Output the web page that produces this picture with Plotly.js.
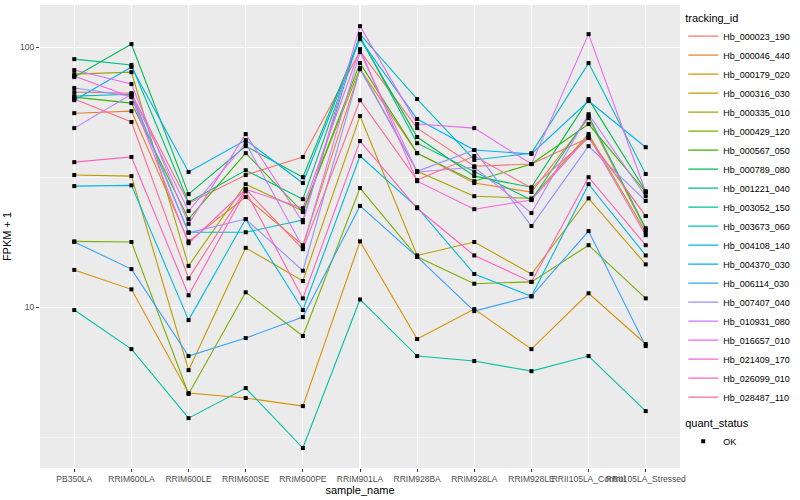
<!DOCTYPE html>
<html>
<head>
<meta charset="utf-8">
<script src="https://cdn.plot.ly/plotly-3.0.1.min.js"></script>
<style>html,body{margin:0;padding:0;background:#fff;}#chart{width:800px;height:500px;}</style>
</head>
<body>
<div id="chart"></div>
<script>
const samples = ["PB350LA","RRIM600LA","RRIM600LE","RRIM600SE","RRIM600PE","RRIM901LA","RRIM928BA","RRIM928LA","RRIM928LE","RRII105LA_Control","RRII105LA_Stressed"];

const trackingIds = ["Hb_000023_190","Hb_000046_440","Hb_000179_020","Hb_000316_030","Hb_000335_010","Hb_000429_120","Hb_000567_050","Hb_000789_080","Hb_001221_040","Hb_003052_150","Hb_003673_060","Hb_004108_140","Hb_004370_030","Hb_006114_030","Hb_007407_040","Hb_010931_080","Hb_016657_010","Hb_021409_170","Hb_026099_010","Hb_028487_110"];

const seriesColors = ["#F8766D","#EA8331","#D89000","#C09B00","#A3A500","#7CAE00","#39B600","#00BB4E","#00BF7D","#00C1A3","#00BFC4","#00BAE0","#00B0F6","#35A2FF","#9590FF","#C77CFF","#E76BF3","#FA62DB","#FF62BC","#FF6C91"];

// FPKM + 1 per tracking id, in the order of samples
const hb_000023_190 = [67.1, 66.5, 25.1, 32.2, 37.8, 96.5, 48.8, 34.8, 35.5, 44.7, 22.4];
const hb_000046_440 = [55.7, 56.7, 17.9, 26.5, 17.3, 82.3, 39.1, 30.0, 27.7, 53.3, 19.8];
const hb_000179_020 = [13.9, 11.7, 4.67, 4.47, 4.16, 17.9, 7.53, 9.82, 6.89, 11.3, 7.21];
const hb_000316_030 = [32.2, 31.9, 5.72, 16.9, 12.6, 54.3, 15.8, 17.8, 13.4, 26.2, 14.6];
const hb_000335_010 = [78.7, 80.1, 14.4, 29.7, 23.4, 83.0, 33.3, 26.7, 26.2, 46.3, 19.4];
const hb_000429_120 = [17.9, 17.8, 4.63, 11.4, 7.74, 28.7, 15.6, 12.3, 12.5, 17.3, 10.8];
const hb_000567_050 = [64.2, 60.9, 21.8, 39.1, 23.2, 86.8, 39.1, 30.5, 35.5, 50.6, 27.7];
const hb_000789_080 = [76.7, 102.7, 27.2, 41.6, 31.6, 108.3, 45.1, 31.9, 28.9, 63.1, 27.9];
const hb_001221_040 = [89.9, 85.3, 25.3, 33.6, 26.0, 110.2, 42.7, 33.1, 25.8, 54.3, 20.1];
const hb_003052_150 = [9.74, 6.89, 3.74, 4.88, 2.87, 10.7, 6.48, 6.20, 5.67, 6.48, 3.98];
const hb_003673_060 = [64.8, 65.9, 19.4, 19.4, 21.6, 112.2, 63.1, 36.8, 39.1, 86.8, 32.5];
const hb_004108_140 = [29.2, 29.4, 8.91, 21.8, 9.74, 38.1, 24.2, 13.4, 11.0, 29.7, 15.8];
const hb_004370_030 = [62.5, 83.8, 33.1, 43.9, 30.0, 107.3, 52.9, 40.2, 38.8, 62.0, 41.2];
const hb_006114_030 = [17.8, 14.0, 6.48, 7.60, 9.15, 24.5, 15.6, 9.65, 11.0, 19.6, 7.08];
const hb_007407_040 = [69.6, 64.8, 19.3, 21.8, 13.8, 82.3, 33.3, 40.2, 20.5, 41.6, 25.6];
const hb_010931_080 = [48.8, 65.9, 23.4, 42.7, 17.0, 95.7, 33.1, 34.5, 23.0, 55.2, 26.7];
const hb_016657_010 = [81.6, 72.1, 20.9, 46.3, 21.2, 120.4, 50.6, 48.8, 35.5, 112.2, 27.7];
const hb_021409_170 = [77.4, 64.2, 17.6, 28.4, 24.0, 98.2, 30.5, 23.8, 25.8, 45.5, 18.9];
const hb_026099_010 = [36.1, 37.8, 11.1, 27.9, 10.8, 43.5, 24.0, 15.8, 12.5, 31.6, 17.3];
const hb_028487_110 = [63.1, 51.5, 12.9, 28.4, 16.7, 62.5, 30.8, 38.1, 28.7, 44.7, 22.4];

const seriesValues = [hb_000023_190, hb_000046_440, hb_000179_020, hb_000316_030, hb_000335_010, hb_000429_120, hb_000567_050, hb_000789_080, hb_001221_040, hb_003052_150, hb_003673_060, hb_004108_140, hb_004370_030, hb_006114_030, hb_007407_040, hb_010931_080, hb_016657_010, hb_021409_170, hb_026099_010, hb_028487_110];

const yTickVals = [10, 100];
const yTickText = ["10", "100"];
const quantStatus = "OK";

const traces = trackingIds.map((id, i) => ({
  type: "scatter", mode: "lines", name: id,
  x: samples, y: seriesValues[i],
  line: {color: seriesColors[i], width: 1.1},
  legend: "legend", hoverinfo: "skip"
}));

const allX = [], allY = [];
seriesValues.forEach(v => v.forEach((val, j) => { allX.push(samples[j]); allY.push(val); }));
traces.push({
  type: "scatter", mode: "markers", name: quantStatus,
  x: allX, y: allY,
  marker: {color: "#000000", symbol: "square", size: 4},
  legend: "legend2", hoverinfo: "skip"
});

const font = "Liberation Sans, Arial, sans-serif";
const layout = {
  width: 800, height: 500,
  margin: {l: 40, r: 116, t: 5, b: 32},
  paper_bgcolor: "#FFFFFF", plot_bgcolor: "#EBEBEB",
  font: {family: font, color: "#000"},
  xaxis: {
    type: "category", range: [-0.6, 10.6],
    showgrid: true, gridcolor: "#FFFFFF", gridwidth: 1.1,
    zeroline: false, showline: false,
    ticks: "outside", ticklen: 3, tickcolor: "#333333", tickwidth: 1,
    tickangle: 0, tickfont: {size: 8.5, color: "#4D4D4D", family: font},
    title: {text: "sample_name", font: {size: 11, color: "#000"}, standoff: 3}
  },
  yaxis: {
    type: "log", range: [0.381, 2.162],
    tickvals: yTickVals, ticktext: yTickText,
    showgrid: true, gridcolor: "#FFFFFF", gridwidth: 1.1,
    minor: {tickvals: [3.1623, 31.623], showgrid: true, gridcolor: "#FFFFFF", gridwidth: 0.5, ticks: ""},
    zeroline: false, showline: false,
    ticks: "outside", ticklen: 3, tickcolor: "#333333", tickwidth: 1,
    tickfont: {size: 8.5, color: "#4D4D4D", family: font},
    title: {text: "FPKM + 1", font: {size: 11, color: "#000"}, standoff: 6}
  },
  showlegend: true,
  legend: {
    x: 1.005, xanchor: "left", y: 0.995, yanchor: "top",
    title: {text: "tracking_id", font: {size: 11, color: "#000"}},
    font: {size: 9, color: "#000"}, bgcolor: "rgba(0,0,0,0)",
    itemwidth: 30, tracegroupgap: 0
  },
  legend2: {
    x: 1.005, xanchor: "left", y: 0.12, yanchor: "top",
    title: {text: "quant_status", font: {size: 11, color: "#000"}},
    font: {size: 9, color: "#000"}, bgcolor: "rgba(0,0,0,0)",
    itemwidth: 30
  }
};

Plotly.newPlot("chart", traces, layout, {staticPlot: true, displayModeBar: false});
</script>
</body>
</html>
